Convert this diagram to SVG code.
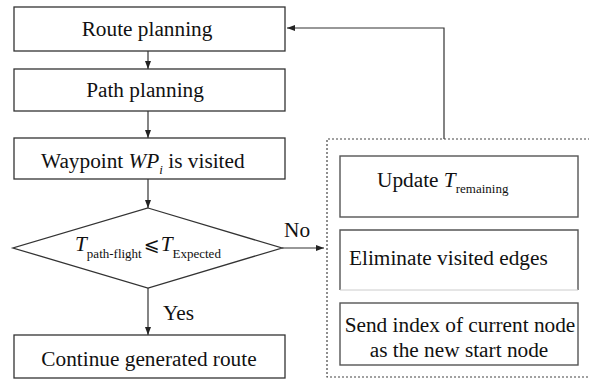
<svg xmlns="http://www.w3.org/2000/svg" width="589" height="381" viewBox="0 0 589 381">
  <defs>
    <marker id="arrow" viewBox="0 0 8 6" refX="8" refY="3" markerWidth="8" markerHeight="6" markerUnits="userSpaceOnUse" orient="auto">
      <path d="M0,0 L8,3 L0,6 z" fill="#222"/>
    </marker>
  </defs>
  <style>
    .box { fill: #fff; stroke: #333; stroke-width: 1.3; }
    .rbox { fill: #fff; stroke: #555; stroke-width: 1.4; }
    .line { fill: none; stroke: #333; stroke-width: 1.2; }
    .dash { fill: none; stroke: #444; stroke-width: 1.2; stroke-dasharray: 2 2; }
    text { font-family: "Liberation Serif", "Times New Roman", serif; fill: #111; }
    .lbl { font-size: 21.3px; }
    .it { font-style: italic; }
    .sub { font-size: 13px; }
    .sym { font-family: "DejaVu Serif", "DejaVu Sans", serif; font-size: 19px; }
  </style>
  <rect width="589" height="381" fill="#fff"/>

  <g id="connectors">
    <line class="line" x1="148" y1="51" x2="148" y2="69" marker-end="url(#arrow)"/>
    <line class="line" x1="148" y1="111" x2="148" y2="138" marker-end="url(#arrow)"/>
    <line class="line" x1="148" y1="179" x2="148" y2="208" marker-end="url(#arrow)"/>
    <line class="line" x1="148" y1="288" x2="148" y2="335" marker-end="url(#arrow)"/>
    <line class="line" x1="282" y1="248" x2="324" y2="248" marker-end="url(#arrow)"/>
    <polyline class="line" points="444,139 444,28 287,28" marker-end="url(#arrow)"/>
    <text class="lbl" x="284" y="237">No</text>
    <text class="lbl" x="163" y="320">Yes</text>
  </g>

  <g id="route-planning">
    <rect class="box" x="14" y="7" width="271" height="44"/>
    <text class="lbl" x="147" y="36" text-anchor="middle">Route planning</text>
  </g>

  <g id="path-planning">
    <rect class="box" x="14" y="69" width="271" height="42"/>
    <text class="lbl" x="145" y="97" text-anchor="middle">Path planning</text>
  </g>

  <g id="waypoint-visited">
    <rect class="box" x="14" y="138" width="271" height="41"/>
    <text class="lbl" x="41" y="168">Waypoint <tspan class="it">WP</tspan><tspan class="sub it" dy="6">i</tspan><tspan dy="-6"> is visited</tspan></text>
  </g>

  <g id="time-check">
    <polygon class="box" points="148,208 282,248 148,288 13,248"/>
    <text class="lbl" x="75" y="251"><tspan class="it">T</tspan><tspan class="sub" dy="7">path-flight</tspan><tspan class="sym" dx="2" dy="-7">⩽</tspan><tspan class="it" dx="1">T</tspan><tspan class="sub" dy="7">Expected</tspan></text>
  </g>

  <g id="continue-route">
    <rect class="box" x="14" y="335" width="271" height="43"/>
    <text class="lbl" x="149" y="366" text-anchor="middle">Continue generated route</text>
  </g>

  <g id="replanning-group">
    <path class="dash" d="M590,139 H327 V377 H590"/>
  </g>

  <g id="update-remaining">
    <rect class="rbox" x="340" y="156" width="238" height="61"/>
    <text class="lbl" x="377" y="187">Update <tspan class="it">T</tspan><tspan class="sub" dy="6">remaining</tspan></text>
  </g>

  <g id="eliminate-edges">
    <path class="rbox" d="M340,290 V230 H578 V290" fill="#fff"/>
    <line x1="340" y1="290" x2="578" y2="290" stroke="#ccc" stroke-width="1"/>
    <text class="lbl" x="349" y="265">Eliminate visited edges</text>
  </g>

  <g id="send-start-node">
    <rect class="rbox" x="340" y="303" width="238" height="62"/>
    <text class="lbl" x="460" y="332" text-anchor="middle">Send index of current node</text>
    <text class="lbl" x="459" y="357" text-anchor="middle">as the new start node</text>
  </g>
</svg>
